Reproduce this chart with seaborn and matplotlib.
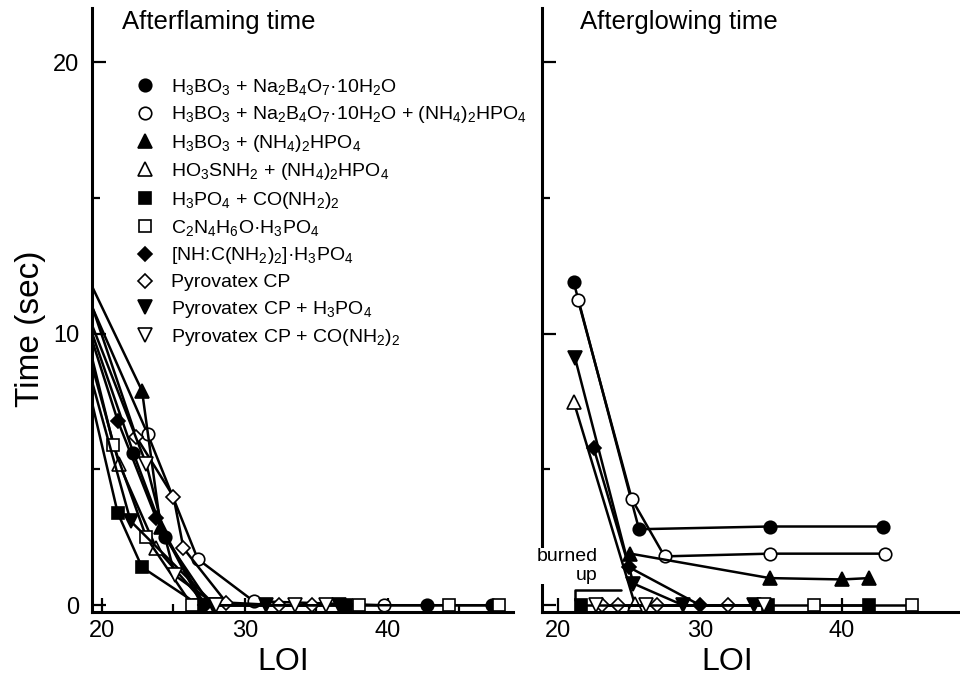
import numpy as np
import pandas as pd
import matplotlib
matplotlib.use('Agg')
import matplotlib.pyplot as plt
from matplotlib.lines import Line2D
import seaborn as sns

# series labels / marker styles
labels = [
    r'H$_3$BO$_3$ + Na$_2$B$_4$O$_7$·10H$_2$O',
    r'H$_3$BO$_3$ + Na$_2$B$_4$O$_7$·10H$_2$O + (NH$_4$)$_2$HPO$_4$',
    r'H$_3$BO$_3$ + (NH$_4$)$_2$HPO$_4$',
    r'HO$_3$SNH$_2$ + (NH$_4$)$_2$HPO$_4$',
    r'H$_3$PO$_4$ + CO(NH$_2$)$_2$',
    r'C$_2$N$_4$H$_6$O·H$_3$PO$_4$',
    r'[NH:C(NH$_2$)$_2$]·H$_3$PO$_4$',
    'Pyrovatex CP',
    r'Pyrovatex CP + H$_3$PO$_4$',
    r'Pyrovatex CP + CO(NH$_2$)$_2$',
]
markers = ['o', 'o', '^', '^', 's', 's', 'D', 'D', 'v', 'v']
filled = [True, False] * 5
msizes = [9, 9, 10, 10, 8.5, 8.5, 7.5, 7.5, 10, 10]

# afterflaming time (left panel)
flam_loi = [
    [18.8, 22.2, 24.4, 27.6, 42.7, 47.3],
    [18.8, 23.2, 26.7, 30.6, 39.7],
    [18.8, 22.8, 24.1, 27.0],
    [18.8, 21.2, 23.8, 27.3],
    [18.8, 21.1, 22.8, 26.8, 37.1],
    [18.8, 20.8, 23.1, 26.3, 38.0, 44.3, 47.8],
    [18.8, 21.1, 23.8, 27.2],
    [18.8, 22.4, 25.0, 25.7, 28.7, 32.4, 34.7],
    [18.8, 22.0, 27.9, 31.5, 36.6],
    [18.8, 23.1, 25.1, 28.0, 33.5, 35.7],
]
flam_time = [
    [10.8, 5.6, 2.5, 0, 0, 0],
    [11.6, 6.3, 1.7, 0.15, 0],
    [12.3, 7.9, 2.9, 0],
    [9.8, 5.2, 2.1, 0],
    [8.6, 3.4, 1.4, 0, 0],
    [10.2, 5.9, 2.5, 0, 0, 0, 0],
    [10.6, 6.8, 3.2, 0],
    [11.8, 6.2, 4.0, 2.1, 0.1, 0, 0],
    [9.2, 3.1, 0, 0, 0],
    [11.0, 5.2, 1.1, 0, 0, 0],
]

# afterglowing time (right panel)
glow_loi = [
    [21.1, 25.7, 34.9, 42.9],
    [21.4, 25.2, 27.5, 34.9, 43.0],
    [25.1, 34.9, 40.0, 41.9],
    [21.1, 25.4],
    [21.6, 34.8, 41.9],
    [38.0, 44.9],
    [22.5, 25.0, 30.0],
    [23.1, 24.2, 27.0, 32.0],
    [21.2, 25.3, 28.8, 33.8],
    [22.7, 26.2, 34.5],
]
glow_time = [
    [11.9, 2.8, 2.9, 2.9],
    [11.25, 3.9, 1.8, 1.9, 1.9],
    [1.9, 1.0, 0.95, 1.0],
    [7.5, 0.05],
    [0, 0, 0],
    [0, 0],
    [5.8, 1.4, 0],
    [0, 0, 0, 0],
    [9.1, 0.8, 0, 0],
    [0, 0, 0],
]
burned_up_range = (21.2, 24.4)

rows = []
for panel, lois, times in [('flam', flam_loi, flam_time), ('glow', glow_loi, glow_time)]:
    for i, (xs, ys) in enumerate(zip(lois, times)):
        for x, y in zip(xs, ys):
            rows.append({'panel': panel, 'series': i, 'LOI': x, 'time': y})
df = pd.DataFrame(rows)

sns.set_style('ticks')
plt.rcParams['font.family'] = ['Liberation Sans', 'DejaVu Sans']
plt.rcParams['mathtext.default'] = 'regular'
for k in ['text.color', 'axes.labelcolor', 'xtick.color', 'ytick.color', 'axes.edgecolor']:
    plt.rcParams[k] = 'black'

fig = plt.figure(figsize=(9.6, 6.78), dpi=100)
ax1 = fig.add_axes([0.0958, 0.0973, 0.4385, 0.891])
ax2 = fig.add_axes([0.5646, 0.0973, 0.4354, 0.891])

for ax, panel in [(ax1, 'flam'), (ax2, 'glow')]:
    for i in range(10):
        sub = df[(df.panel == panel) & (df.series == i)]
        if sub.empty:
            continue
        sns.lineplot(data=sub, x='LOI', y='time', ax=ax, sort=False, estimator=None,
                     color='black', linewidth=1.8, legend=False)
        line = ax.lines[-1]
        line.set_marker(markers[i])
        line.set_markersize(msizes[i])
        line.set_markerfacecolor('black' if filled[i] else 'white')
        line.set_markeredgecolor('black')
        line.set_markeredgewidth(1.2)

    ax.set_ylim(-0.25, 22)
    ax.set_yticks([0, 10, 20])
    ax.set_yticks([5, 15], minor=True)
    ax.set_xticks([20, 30, 40])
    ax.set_xticks([25, 35, 45], minor=True)
    ax.tick_params(which='major', direction='in', length=10, width=1.6, labelsize=17)
    ax.tick_params(which='minor', direction='in', length=6, width=1.6)
    ax.tick_params(axis='y', pad=9)
    ax.tick_params(axis='x', pad=6)
    for s in ['top', 'right']:
        ax.spines[s].set_visible(False)
    for s in ['left', 'bottom']:
        ax.spines[s].set_linewidth(2.2)
    ax.set_xlabel('LOI', fontsize=23)
    ax.set_ylabel('')

ax1.set_xlim(19.3, 48.74)
ax2.set_xlim(18.87, 48.3)
ax2.tick_params(axis='y', labelleft=False)

ax1.set_ylabel('Time (sec)', fontsize=24)
ax1.yaxis.set_label_coords(-0.109, 0.469)
ax1.xaxis.set_label_coords(0.454, -0.058)
ax2.xaxis.set_label_coords(0.443, -0.058)

ax1.text(0.071, 0.977, 'Afterflaming time', transform=ax1.transAxes,
         fontsize=18.5, va='center', ha='left')
ax2.text(0.092, 0.977, 'Afterglowing time', transform=ax2.transAxes,
         fontsize=18.5, va='center', ha='left')

# burned up note
ax2.text(22.8, 1.44, 'burned\nup', ha='right', va='center', multialignment='right',
         fontsize=14, zorder=5, clip_on=False,
         bbox=dict(facecolor='white', edgecolor='none', pad=0))
bx0, bx1 = burned_up_range
ax2.plot([bx0, bx0, bx1], [0.2, 0.55, 0.55], color='black', lw=1.8)

handles = [Line2D([], [], marker=markers[i], linestyle='none', markersize=msizes[i],
                  markerfacecolor='black' if filled[i] else 'white',
                  markeredgecolor='black', markeredgewidth=1.2) for i in range(10)]
fig.legend(handles, labels, loc='upper left', bbox_to_anchor=(135 / 960, 1 - 77 / 678),
           frameon=False, fontsize=14, handlelength=1.0, handletextpad=0.85,
           labelspacing=0.38, borderpad=0, borderaxespad=0)

fig.savefig('out.png', dpi=100)
